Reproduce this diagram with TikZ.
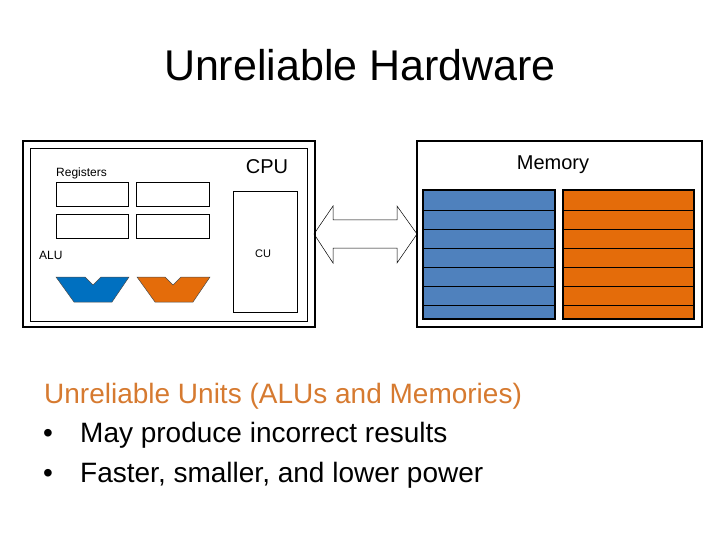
\documentclass[tikz,border=0pt]{standalone}
\usepackage{fontspec}
\setmainfont{Liberation Sans}
\usepackage{tikz}

\definecolor{alublue}{RGB}{0,112,192}
\definecolor{memblue}{RGB}{79,129,189}
\definecolor{unitorange}{RGB}{228,108,10}
\definecolor{noteorange}{RGB}{214,122,48}

\tikzset{
  thickbox/.style={line width=2.6pt},
  thinbox/.style={line width=0.9pt},
  rowline/.style={line width=0.8pt},
  label/.style={inner sep=0pt, anchor=base},
}

\begin{document}
\begin{tikzpicture}[x=1pt, y=-1pt]
    \useasboundingbox (0, 0) rectangle (720, 540);

    % Title
    \node[label] (title) at (360, 81) {\fontsize{43}{50}\selectfont Unreliable Hardware};

    % Draw the CPU
    \draw[thickbox] (23, 141) rectangle (315, 327);
    \draw[thinbox] (30, 148) rectangle (307, 321);
    \draw[thinbox] (56, 182) rectangle (128, 206);
    \draw[thinbox] (136, 182) rectangle (209, 206);
    \draw[thinbox] (56, 214) rectangle (128, 238);
    \draw[thinbox] (136, 214) rectangle (209, 238);
    \draw[thinbox] (233, 191) rectangle (297, 312);

    % Draw the ALUs
    \fill[alublue, draw=black!70, line width=0.5pt] (56, 277) -- (85, 277) -- (93, 285) -- (101, 277)
        -- (129, 277) -- (112, 302) -- (74, 302) -- cycle;
    \fill[unitorange, draw=black!70, line width=0.5pt] (137, 277) -- (165, 277) -- (173, 285) -- (181, 277)
        -- (210, 277) -- (193, 302) -- (155, 302) -- cycle;

    % Draw the bus
    \draw[line width=0.5pt] (314, 234) -- (333, 206) -- (333, 220) -- (397, 220) -- (397, 206)
        -- (417, 234) -- (397, 263) -- (397, 248) -- (333, 248) -- (333, 263) -- cycle;

    % Draw the memory
    \draw[thickbox] (417, 141) rectangle (702, 327);
    \fill[memblue] (423, 190) rectangle (555, 319);
    \fill[unitorange] (563, 190) rectangle (694, 319);
    \foreach \y in {210, 229, 248, 267, 286, 305} {
        \draw[rowline] (423, \y) -- (555, \y);
        \draw[rowline] (563, \y) -- (694, \y);
    }
    \draw[thickbox] (423, 190) rectangle (555, 319);
    \draw[thickbox] (563, 190) rectangle (694, 319);

    % Labels
    \node[label] (cpulabel) at (267, 174) {\fontsize{20}{24}\selectfont CPU};
    \node[label] (memlabel) at (553, 170) {\fontsize{20}{24}\selectfont Memory};
    \node[label, anchor=base west] (reglabel) at (56, 177) {\fontsize{12}{14}\selectfont Registers};
    \node[label, anchor=base west] (alulabel) at (39, 259) {\fontsize{12}{14}\selectfont ALU};
    \node[label] (culabel) at (263, 257) {\fontsize{11}{13}\selectfont CU};

    % Notes
    \node[label, anchor=base west, text=noteorange] (units) at (44, 403)
        {\fontsize{28}{34}\selectfont Unreliable Units (ALUs and Memories)};
    \node[label] (bulleta) at (48, 442) {\fontsize{28}{34}\selectfont •};
    \node[label, anchor=base west] (pointa) at (80, 442)
        {\fontsize{28}{34}\selectfont May produce incorrect results};
    \node[label] (bulletb) at (48, 482) {\fontsize{28}{34}\selectfont •};
    \node[label, anchor=base west] (pointb) at (80, 482)
        {\fontsize{28}{34}\selectfont Faster, smaller, and lower power};
\end{tikzpicture}
\end{document}
